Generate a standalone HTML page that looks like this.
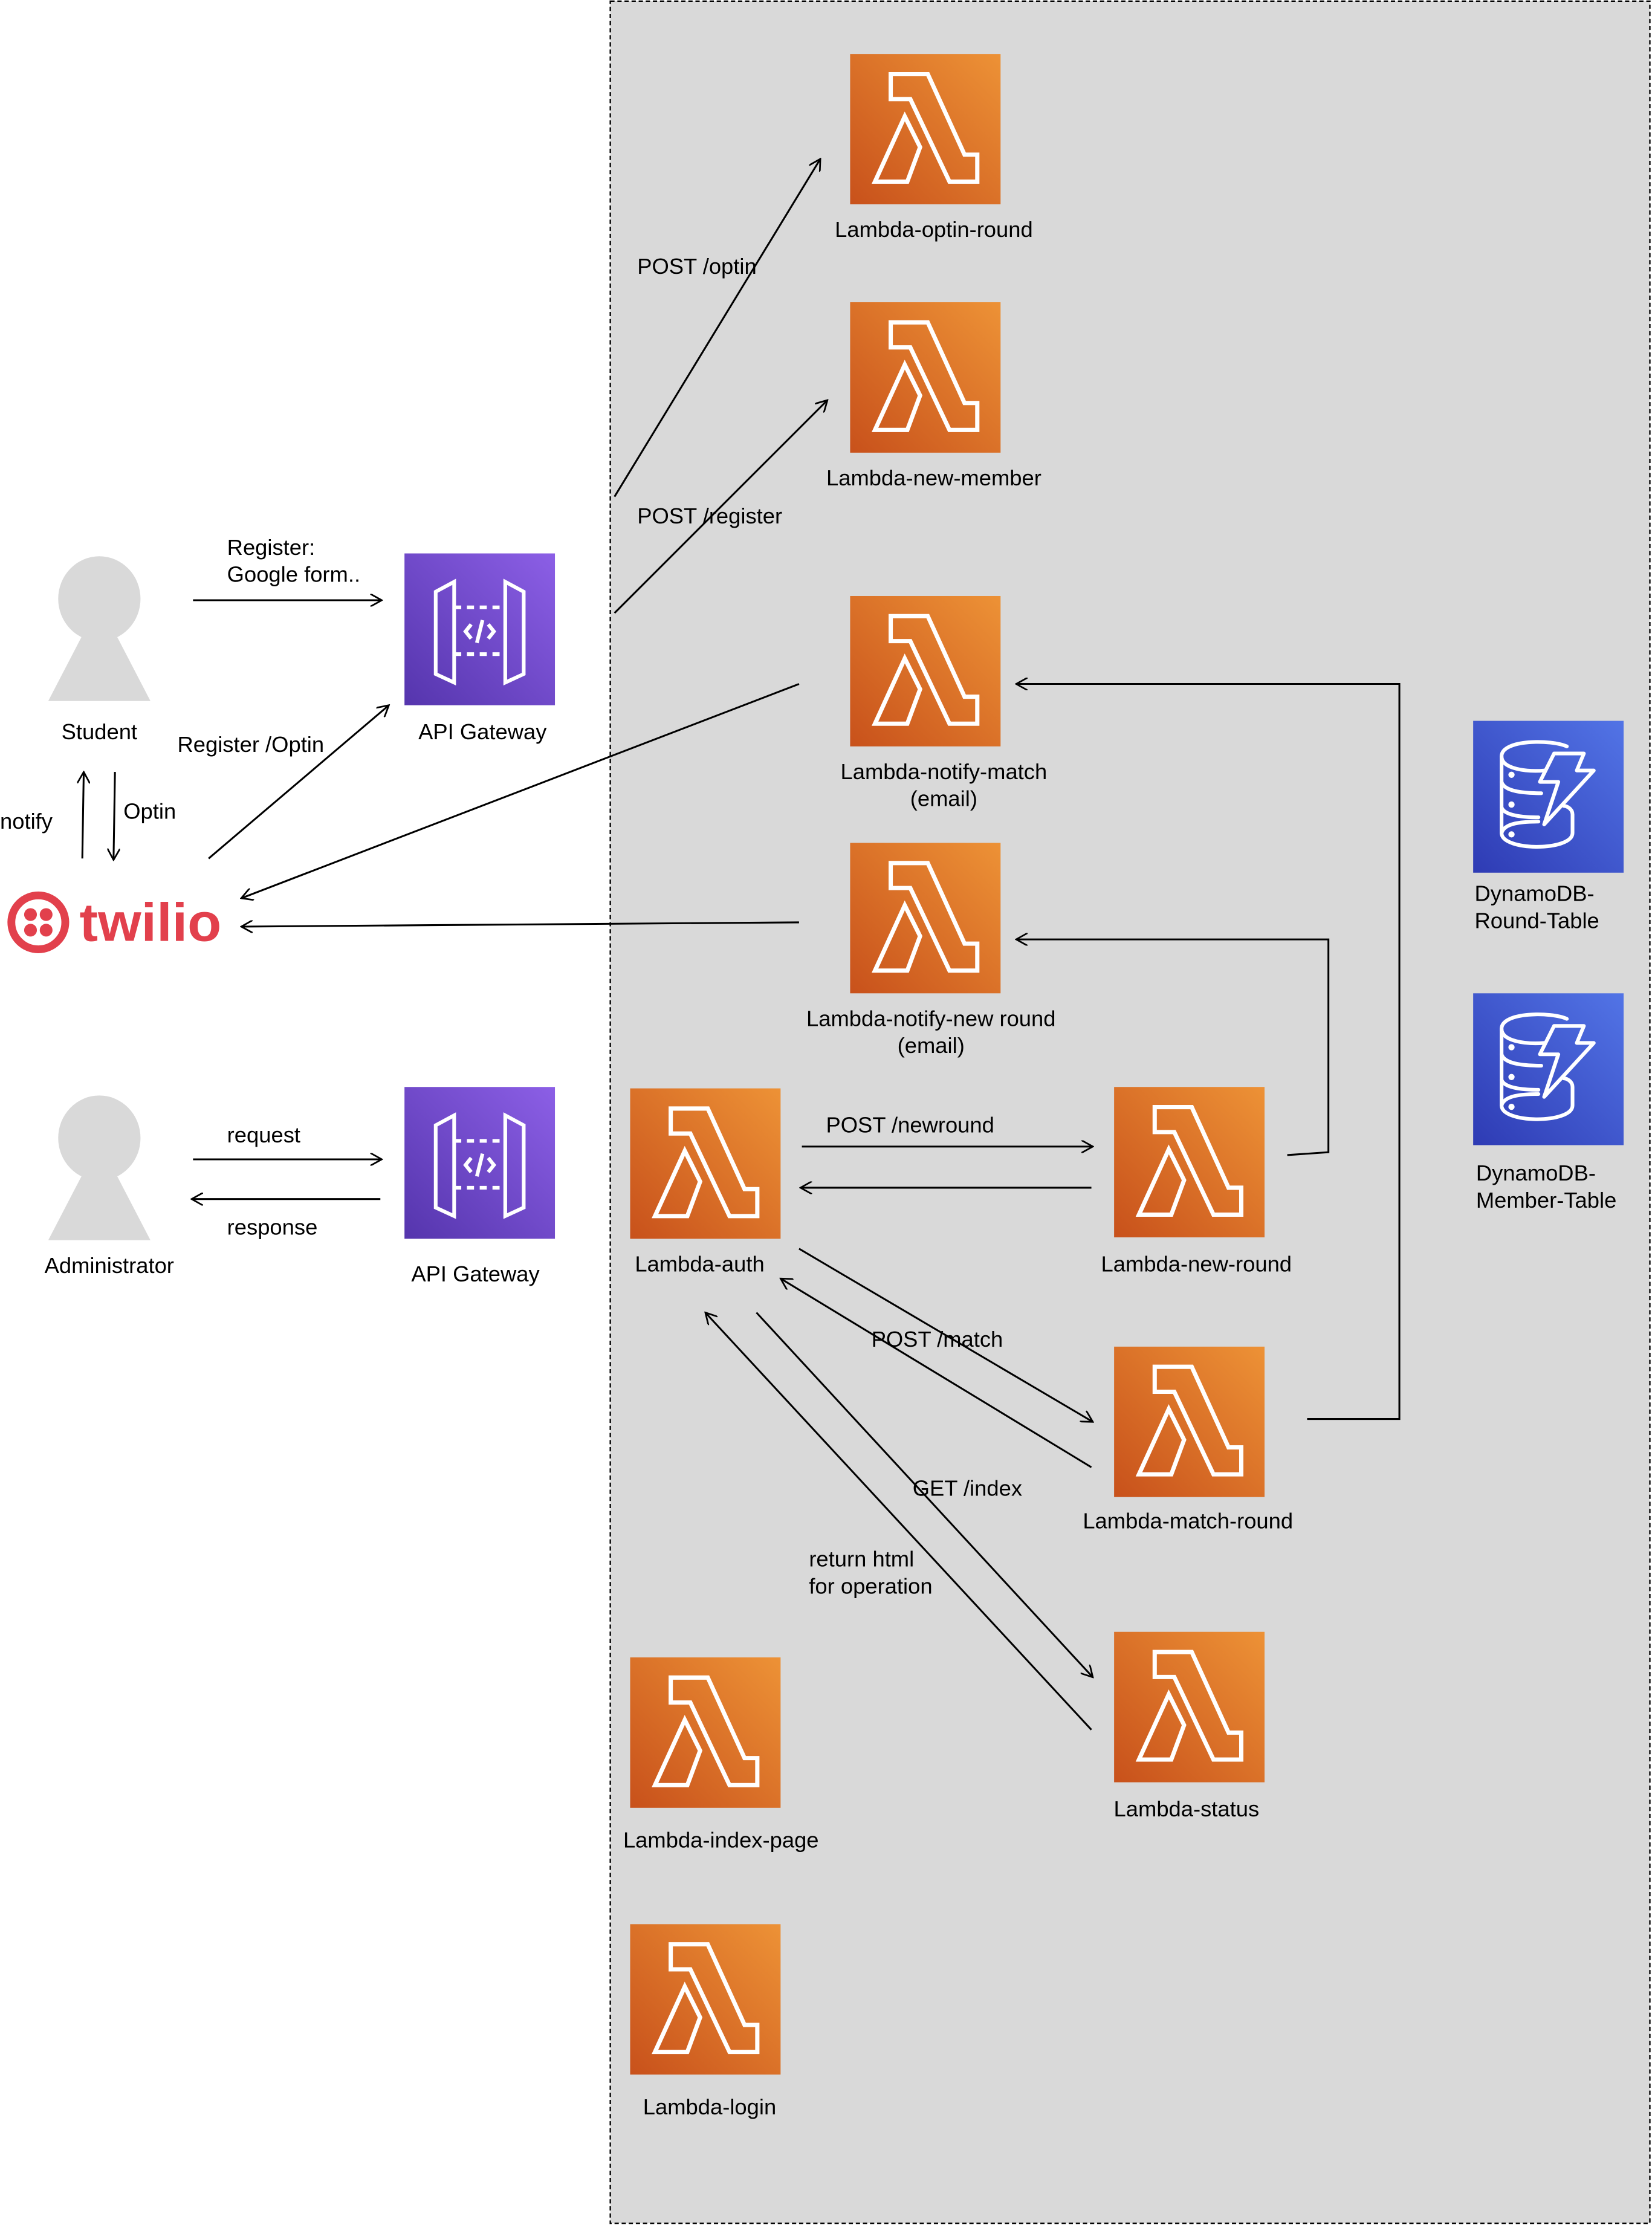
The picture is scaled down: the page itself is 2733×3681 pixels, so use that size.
<!DOCTYPE html>
<html><head><meta charset="utf-8"><style>
html,body{margin:0;padding:0;background:#fff;}
svg{display:block;}
text{font-family:"Liberation Sans",sans-serif;font-size:15.5px;fill:#000;}
</style></head><body>
<svg width="2733" height="3681" viewBox="0 0 1164 1568" preserveAspectRatio="none" xmlns="http://www.w3.org/2000/svg">
<defs>
<linearGradient id="lg" x1="0" y1="1" x2="1" y2="0"><stop offset="0" stop-color="#c8511b"/><stop offset="1" stop-color="#ed9236"/></linearGradient>
<linearGradient id="pg" x1="0" y1="1" x2="1" y2="0"><stop offset="0" stop-color="#5535ad"/><stop offset="1" stop-color="#8c5fe6"/></linearGradient>
<linearGradient id="bg" x1="0" y1="1" x2="1" y2="0"><stop offset="0" stop-color="#2e3bb4"/><stop offset="1" stop-color="#5274e6"/></linearGradient>
<marker id="ah" viewBox="0 0 10 10" refX="9" refY="5" markerWidth="9" markerHeight="9" markerUnits="userSpaceOnUse" orient="auto"><path d="M0,0 L9,5 L0,10" fill="none" stroke="#000" stroke-width="1.3"/></marker>
<g id="lam">
<rect width="106" height="106" fill="url(#lg)"/>
<path d="M28.6,14.2 L54.7,14.2 L80.6,71 L89.6,71 L89.6,90 L70,90 L42.4,31.8 L28.6,31.8 Z" fill="none" stroke="#fff" stroke-width="3" stroke-linejoin="miter"/>
<path d="M38.5,44 L49.3,65.7 L40.3,90 L17.5,90 Z" fill="none" stroke="#fff" stroke-width="3"/>
</g>
<g id="api">
<rect width="106" height="107" fill="url(#pg)"/>
<g fill="none" stroke="#fff" stroke-width="2.6">
<path d="M22,27 L35,20 L35,91 L22,85 Z"/>
<path d="M84,27 L71,20 L71,91 L84,85 Z"/>
<path d="M35,38 L71,38 M35,71 L71,71" stroke-dasharray="5,4"/>
<path d="M47,50 L43,55 L47,60 M59,50 L63,55 L59,60 M55,47 L51,63"/>
</g>
</g>
<g id="ddb">
<rect width="106" height="107" fill="url(#bg)"/>
<g fill="none" stroke="#fff" stroke-width="2.6" stroke-linecap="round">
<path d="M66,18 C55,13 20,13 20,25 C20,34 38,36 50,35"/>
<path d="M20,25 L20,79 C20,92 70,92 70,79 L70,66 C70,62 66,60 64,60"/>
<path d="M20,43 C22,50 36,51 48,51 M20,61 C22,67 36,68 46,68 M20,79 C22,72 34,71 46,71"/>
<path d="M57,23 L78,23 L73,35 L85,35 L50,73 L60,43 L47,43 Z" stroke-linejoin="round"/>
</g>
<circle cx="27" cy="38" r="2.2" fill="#fff"/><circle cx="27" cy="59" r="2.2" fill="#fff"/><circle cx="27" cy="80" r="2.2" fill="#fff"/>
</g>
<g id="person" fill="#d9d9d9">
<ellipse cx="0" cy="0" rx="29" ry="30"/>
<polygon points="-9,20 9,20 36,72 -36,72"/>
</g>
</defs>

<rect x="430" y="0.8" width="732.5" height="1566" fill="#d9d9d9" stroke="#000" stroke-width="1" stroke-dasharray="3,2"/>

<use href="#lam" x="599" y="38"/>
<use href="#lam" x="599" y="213"/>
<use href="#lam" x="599" y="420"/>
<use href="#lam" x="599" y="594"/>
<use href="#lam" x="444" y="767"/>
<use href="#lam" x="785" y="766"/>
<use href="#lam" x="785" y="949"/>
<use href="#lam" x="785" y="1150"/>
<use href="#lam" x="444" y="1168"/>
<use href="#lam" x="444" y="1356"/>
<use href="#ddb" x="1038" y="508"/>
<use href="#ddb" x="1038" y="700"/>
<use href="#api" x="285" y="390"/>
<use href="#api" x="285" y="766"/>
<use href="#person" x="70" y="422"/>
<use href="#person" x="70" y="802"/>

<g text-anchor="middle">
<text x="658" y="167">Lambda-optin-round</text>
<text x="658" y="342">Lambda-new-member</text>
<text x="665" y="549">Lambda-notify-match</text>
<text x="665" y="568">(email)</text>
<text x="656" y="723">Lambda-notify-new round</text>
<text x="656" y="742">(email)</text>
<text x="493" y="896">Lambda-auth</text>
<text x="843" y="896">Lambda-new-round</text>
<text x="837" y="1077">Lambda-match-round</text>
<text x="836" y="1280">Lambda-status</text>
<text x="508" y="1302">Lambda-index-page</text>
<text x="500" y="1490">Lambda-login</text>
<text x="340" y="521">API Gateway</text>
<text x="335" y="903">API Gateway</text>
<text x="70" y="521">Student</text>
<text x="77" y="897">Administrator</text>
</g>
<text x="1039" y="635">DynamoDB-</text>
<text x="1039" y="654">Round-Table</text>
<text x="1040" y="832">DynamoDB-</text>
<text x="1040" y="851">Member-Table</text>

<text x="160" y="391">Register:</text>
<text x="160" y="410">Google form..</text>
<text x="0" y="584">notify</text>
<text x="87" y="577">Optin</text>
<text x="125" y="530">Register /Optin</text>
<text x="449" y="193">POST /optin</text>
<text x="449" y="369">POST /register</text>
<text x="160" y="805">request</text>
<text x="160" y="870">response</text>
<text x="582" y="798">POST /newround</text>
<text x="614" y="949">POST /match</text>
<text x="643" y="1054">GET /index</text>
<text x="570" y="1104">return html</text>
<text x="570" y="1123">for operation</text>

<circle cx="27" cy="650" r="19" fill="none" stroke="#e2404c" stroke-width="5.5"/>
<circle cx="21.5" cy="644.5" r="4.5" fill="#e2404c"/><circle cx="32.5" cy="644.5" r="4.5" fill="#e2404c"/>
<circle cx="21.5" cy="655.5" r="4.5" fill="#e2404c"/><circle cx="32.5" cy="655.5" r="4.5" fill="#e2404c"/>
<text x="56" y="663" textLength="100" lengthAdjust="spacingAndGlyphs" style="font-size:38px;font-weight:bold;fill:#e2404c">twilio</text>

<g fill="none" stroke="#000" stroke-width="1.3" marker-end="url(#ah)">
<path d="M136,423 L269,423"/>
<path d="M58,605 L59,544"/>
<path d="M81,544 L80,606"/>
<path d="M147,605 L274,497"/>
<path d="M563,482 L170,633"/>
<path d="M563,650 L170,653"/>
<path d="M433,350 L578,112"/>
<path d="M433,432 L583,282"/>
<path d="M136,817 L269,817"/>
<path d="M268,845 L135,845"/>
<path d="M565,808 L770,808"/>
<path d="M769,837 L564,837"/>
<path d="M907,814 L936,812 L936,662 L716,662"/>
<path d="M921,1000 L986,1000 L986,482 L716,482"/>
<path d="M563,880 L770,1002"/>
<path d="M769,1034 L550,901"/>
<path d="M533,925 L770,1182"/>
<path d="M769,1219 L497,925"/>
</g>
</svg>
</body></html>
